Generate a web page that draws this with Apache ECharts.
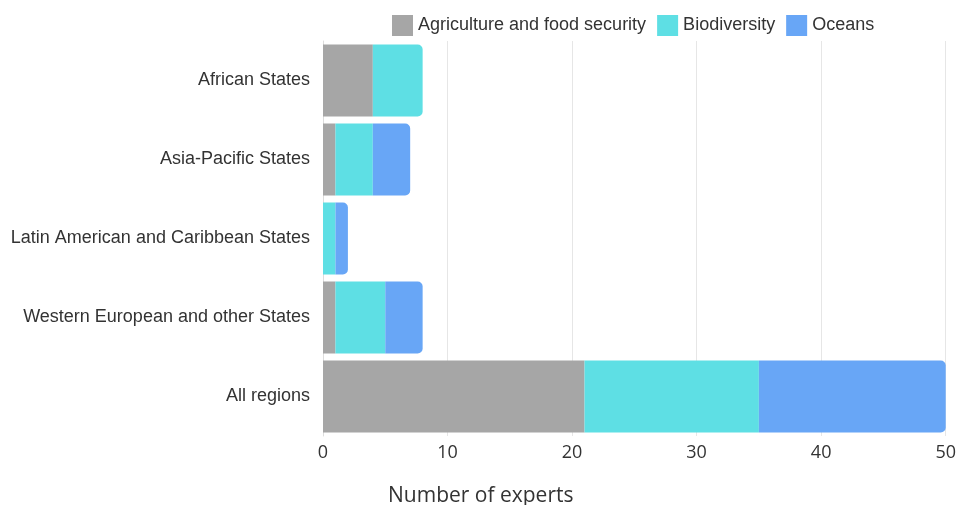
<!DOCTYPE html>
<html><head><meta charset="utf-8">
<script src="https://cdn.jsdelivr.net/npm/echarts@6/dist/echarts.min.js"></script>
<style>html,body{margin:0;padding:0;background:#fff}#c{width:959px;height:505px}</style>
</head><body><div id="c"></div>
<script>
const categories = ["African States","Asia-Pacific States","Latin American and Caribbean States","Western European and other States","All regions"];
const seriesNames = ["Agriculture and food security","Biodiversity","Oceans"];
const agriculture = [4,1,0,1,21];
const biodiversity = [4,3,1,4,14];
const oceans = [0,3,1,3,15];
const xTicks = [0,10,20,30,40,50];

const colors = ["#a6a6a6","#5edfe4","#68a6f6"];
const FONT = "'Liberation Sans', Arial, sans-serif";
const all = [agriculture, biodiversity, oceans];
function build(si){
  return all[si].map((v,ci)=>{
    let last = true;
    for(let k=si+1;k<all.length;k++){ if(all[k][ci]>0) last=false; }
    return {value:v, itemStyle:{borderRadius: last ? [0,5,5,0] : 0}};
  });
}
const chart = echarts.init(document.getElementById('c'));
chart.setOption({
  animation:false,
  textStyle:{fontFamily:FONT},
  legend:{top:15, left:392, itemWidth:21, itemHeight:21, itemGap:11, padding:[0,0,0,0],
    icon:'rect', textStyle:{fontSize:18, color:'#333', fontFamily:FONT},
    data:seriesNames},
  grid:{left:323, right:11, top:41, bottom:69, containLabel:false},
  xAxis:{type:'value', min:xTicks[0], max:xTicks[xTicks.length-1], interval:10,
    axisLine:{show:false}, axisTick:{show:false},
    axisLabel:{fontSize:18, color:'#333', margin:8, fontFamily:"'Open Sans'"},
    splitLine:{show:true, lineStyle:{color:'#e6e6e6', width:1}}},
  yAxis:{type:'category', inverse:true, data:categories,
    axisLine:{show:true, lineStyle:{color:'#dddddd'}}, axisTick:{show:false},
    axisLabel:{fontSize:18, color:'#333', margin:13, fontFamily:FONT}},
  graphic:[{type:'text', left:388, top:486,
    style:{text:'Number of experts', fontSize:21, fill:'#333', fontFamily:"'Open Sans'"}}],
  series: seriesNames.map((n,i)=>({
    name:n, type:'bar', stack:'t', barCategoryGap:'9%',
    itemStyle:{color:colors[i]},
    data:build(i)
  }))
});
</script></body></html>
